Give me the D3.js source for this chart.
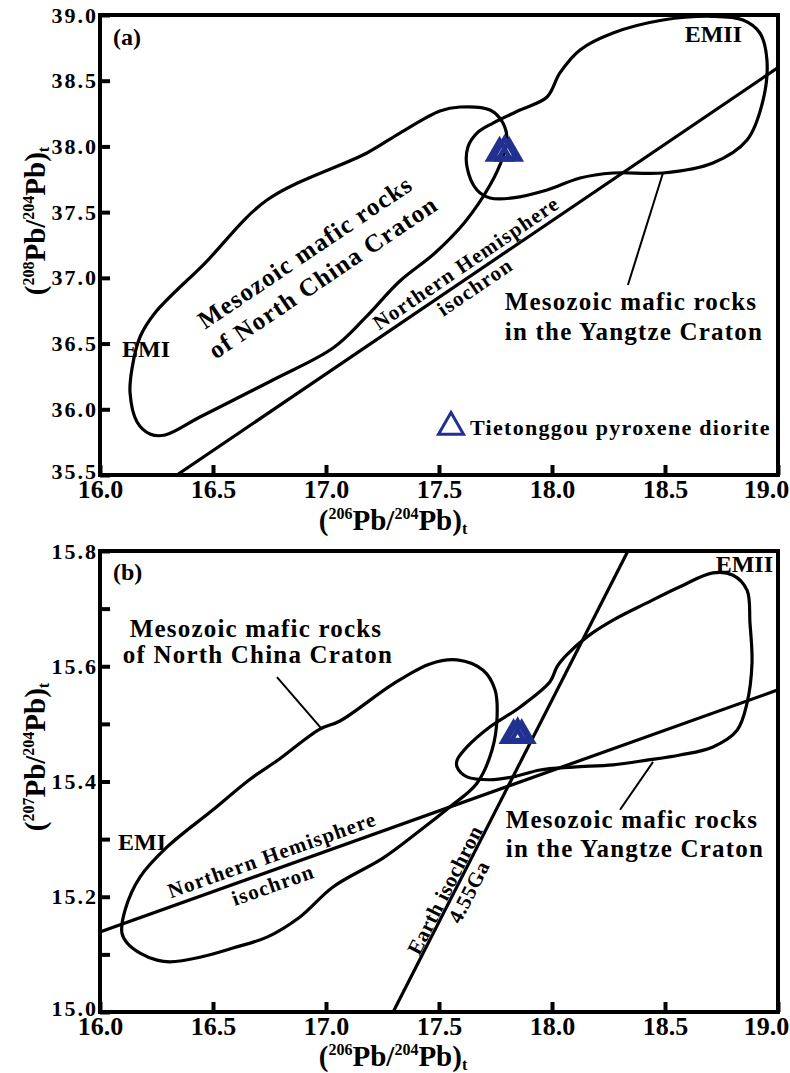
<!DOCTYPE html>
<html>
<head>
<meta charset="utf-8">
<script src="https://cdn.jsdelivr.net/npm/d3@7"></script>
<style>
  body { margin: 0; background: #fff; }
  text { font-family: "Liberation Serif", "Times New Roman", serif; font-weight: bold; fill: #000; }
</style>
</head>
<body>
<svg id="chart" width="790" height="1073"></svg>
<script>
// ---------- data (206Pb/204Pb, 208Pb/204Pb or 207Pb/204Pb) ----------
const xTicks = [16.0, 16.5, 17.0, 17.5, 18.0, 18.5, 19.0];
const yTicksA = [35.5, 36.0, 36.5, 37.0, 37.5, 38.0, 38.5, 39.0];
const yTicksB = [15.0, 15.1, 15.2, 15.3, 15.4, 15.5, 15.6, 15.7, 15.8];

// (a) field outlines
const nccA = [
  [17.593, 38.300], [17.726, 38.277], [17.783, 38.178], [17.801, 38.049], [17.783, 37.920],
  [17.726, 37.706], [17.615, 37.425], [17.482, 37.189], [17.327, 36.976], [17.173, 36.695],
  [17.031, 36.466], [16.765, 36.223], [16.442, 35.941], [16.288, 35.804], [16.221, 35.812],
  [16.164, 35.903], [16.133, 36.124], [16.142, 36.314], [16.177, 36.550], [16.243, 36.733],
  [16.465, 37.113], [16.739, 37.592], [17.181, 37.950], [17.327, 38.102], [17.504, 38.270]
];
const yangtzeA = [
  [17.628, 37.996], [17.624, 37.843], [17.668, 37.668], [17.726, 37.608], [17.827, 37.608],
  [17.978, 37.668], [18.124, 37.760], [18.270, 37.798], [18.491, 37.798], [18.712, 37.874],
  [18.863, 38.049], [18.934, 38.353], [18.951, 38.658], [18.920, 38.863], [18.845, 38.962],
  [18.712, 38.990], [18.491, 38.962], [18.270, 38.863], [18.124, 38.734], [18.035, 38.559],
  [17.978, 38.376], [17.858, 38.277], [17.739, 38.178], [17.668, 38.102]
];
const nhrlA = [[16.34, 35.5], [19.0, 38.60]];
const yangtzeLeaderA = [[18.491, 37.798], [18.336, 36.946]];
const samplesA = [[17.768, 37.950], [17.790, 37.962], [17.810, 37.950]];

// (b) field outlines
const nccB = [
  [16.097, 15.137], [16.111, 15.177], [16.177, 15.234], [16.296, 15.286], [16.500, 15.351],
  [16.664, 15.404], [16.783, 15.436], [16.973, 15.491], [17.062, 15.505], [17.296, 15.569],
  [17.460, 15.604], [17.580, 15.611], [17.695, 15.593], [17.748, 15.559], [17.757, 15.512],
  [17.735, 15.455], [17.668, 15.397], [17.549, 15.356], [17.403, 15.311], [17.252, 15.267],
  [17.031, 15.217], [16.885, 15.165], [16.739, 15.130], [16.588, 15.111], [16.442, 15.095],
  [16.310, 15.087], [16.252, 15.090], [16.177, 15.102], [16.119, 15.120]
];
const yangtzeB = [
  [17.580, 15.437], [17.624, 15.460], [17.726, 15.495], [17.858, 15.529], [17.991, 15.573],
  [18.022, 15.599], [18.066, 15.620], [18.155, 15.651], [18.270, 15.680], [18.420, 15.710],
  [18.566, 15.738], [18.712, 15.762], [18.801, 15.758], [18.863, 15.732], [18.876, 15.675],
  [18.885, 15.606], [18.863, 15.536], [18.819, 15.489], [18.712, 15.460], [18.566, 15.446],
  [18.420, 15.437], [18.270, 15.429], [18.093, 15.425], [17.947, 15.420], [17.827, 15.408],
  [17.726, 15.403], [17.624, 15.408], [17.580, 15.425]
];
const nhrlB = [[16.0, 15.139], [19.0, 15.559]];
const geochronB = [[17.297, 15.0], [18.336, 15.8]];
const nccLeaderB = [[16.783, 15.581], [16.982, 15.491]];
const yangtzeLeaderB = [[18.447, 15.434], [18.301, 15.351]];
const samplesB = [[17.830, 15.480], [17.848, 15.483], [17.866, 15.480]];

const legendLabel = "Tietonggou pyroxene diorite";
const sampleColor = "#22318f";

// ---------- drawing ----------
const svg = d3.select("#chart");

function txt(g, x, y, s, o = {}) {
  const t = g.append("text")
    .attr("x", x).attr("y", y)
    .attr("text-anchor", o.anchor || "start")
    .style("font-size", (o.size || 24) + "px")
    .style("letter-spacing", (o.ls || 0) + "px")
    .text(s);
  if (o.mid) t.attr("dominant-baseline", "central");
  if (o.rot != null) t.attr("transform", `rotate(${o.rot},${x},${y})`);
  return t;
}

// (²⁰⁶Pb/²⁰⁴Pb)t style title
function isoTitle(g, x, y, mass, rot) {
  const t = g.append("text").attr("x", x).attr("y", y)
    .attr("text-anchor", "middle").style("font-size", "29px");
  if (rot != null) t.attr("transform", `rotate(${rot},${x},${y})`);
  t.append("tspan").text("(");
  t.append("tspan").style("font-size", "16px").attr("dy", -11).text(mass);
  t.append("tspan").attr("dy", 11).text("Pb/");
  t.append("tspan").style("font-size", "16px").attr("dy", -11).text("204");
  t.append("tspan").attr("dy", 11).text("Pb)");
  t.append("tspan").style("font-size", "16px").attr("dy", 4).text("t");
}

function panel(id, top, bottom, yDomain, yTicks, yFmt) {
  const g = svg.append("g");
  const x = d3.scaleLinear().domain([16, 19]).range([100, 778]);
  const y = d3.scaleLinear().domain(yDomain).range([bottom, top]);

  g.append("clipPath").attr("id", id)
    .append("rect").attr("x", 100).attr("y", top).attr("width", 678).attr("height", bottom - top);
  const plot = g.append("g").attr("clip-path", `url(#${id})`);

  // axes with inward ticks
  g.append("g").attr("transform", `translate(0,${bottom})`)
    .call(d3.axisBottom(x).tickValues(xTicks).tickFormat(d3.format(".1f"))
      .tickSizeInner(-10).tickSizeOuter(0).tickPadding(5))
    .call(a => a.select(".domain").remove())
    .call(a => a.selectAll(".tick line").attr("stroke-width", 4))
    .call(a => a.selectAll("text").style("font-size", "26px")
      .attr("dx", d => (d === 19 ? -12 : 0)));

  g.append("g").attr("transform", "translate(100,0)")
    .call(d3.axisLeft(y).tickValues(yTicks).tickFormat(yFmt)
      .tickSizeInner(-10).tickSizeOuter(0).tickPadding(2))
    .call(a => a.select(".domain").remove())
    .call(a => a.selectAll(".tick line").attr("stroke-width", 4))
    .call(a => a.selectAll("text").style("font-size", "22px").style("letter-spacing", "2px")
      .attr("y", d => (d === yDomain[0] ? -4 : 0)));

  g.append("rect").attr("x", 100).attr("y", top).attr("width", 678).attr("height", bottom - top)
    .attr("fill", "none").attr("stroke", "#000").attr("stroke-width", 4);

  const line = d3.line().x(d => x(d[0])).y(d => y(d[1]));
  const field = d3.line().curve(d3.curveCatmullRomClosed.alpha(0.5)).x(d => x(d[0])).y(d => y(d[1]));
  return { g, plot, x, y, line, field };
}

function samples(p, data) {
  p.plot.selectAll(null).data(data).enter().append("path")
    .attr("d", d3.symbol(d3.symbolTriangle).size(215))
    .attr("transform", d => `translate(${p.x(d[0])},${p.y(d[1])})`)
    .attr("fill", "none").attr("stroke", sampleColor).attr("stroke-width", 4.5)
    .attr("stroke-linejoin", "miter");
}

// ----- panel (a) -----
const A = panel("clipA", 15, 475, [35.5, 39.0], yTicksA, d3.format(".1f"));
A.plot.append("path").attr("d", A.field(nccA)).attr("fill", "none").attr("stroke", "#000").attr("stroke-width", 3.2);
A.plot.append("path").attr("d", A.field(yangtzeA)).attr("fill", "none").attr("stroke", "#000").attr("stroke-width", 3.2);
A.plot.append("path").attr("d", A.line(nhrlA)).attr("stroke", "#000").attr("stroke-width", 3.2);
A.plot.append("path").attr("d", A.line(yangtzeLeaderA)).attr("stroke", "#000").attr("stroke-width", 2);
samples(A, samplesA);

txt(A.g, 113, 45, "(a)");
txt(A.g, 742, 42, "EMII", { anchor: "end" });
txt(A.g, 122, 357, "EMI");
txt(A.g, 305, 252, "Mesozoic mafic rocks", { anchor: "middle", mid: true, rot: -34, size: 25, ls: 1.2 });
txt(A.g, 323, 277, "of North China Craton", { anchor: "middle", mid: true, rot: -34, size: 25, ls: 1.2 });
txt(A.g, 466, 263, "Northern Hemisphere", { anchor: "middle", mid: true, rot: -34.2, size: 21, ls: 1.2 });
txt(A.g, 475, 287, "isochron", { anchor: "middle", mid: true, rot: -34.2, size: 21, ls: 1.2 });
txt(A.g, 631, 310, "Mesozoic mafic rocks", { anchor: "middle", size: 25, ls: 1.2 });
txt(A.g, 634, 340, "in the Yangtze Craton", { anchor: "middle", size: 25, ls: 1.2 });

// legend
A.g.append("path").attr("d", d3.symbol(d3.symbolTriangle).size(270))
  .attr("transform", "translate(451,427)")
  .attr("fill", "none").attr("stroke", sampleColor).attr("stroke-width", 3);
txt(A.g, 470, 435, legendLabel, { size: 22, ls: 1.3 });

isoTitle(A.g, 393, 530, "206");
isoTitle(A.g, 45, 221, "208", -90);

// ----- panel (b) -----
const B = panel("clipB", 551, 1012, [15.0, 15.8], yTicksB,
  d => (Math.round(d * 10) % 2 === 0 ? d.toFixed(1) : ""));
B.plot.append("path").attr("d", B.field(nccB)).attr("fill", "none").attr("stroke", "#000").attr("stroke-width", 3.2);
B.plot.append("path").attr("d", B.field(yangtzeB)).attr("fill", "none").attr("stroke", "#000").attr("stroke-width", 3.2);
B.plot.append("path").attr("d", B.line(nhrlB)).attr("stroke", "#000").attr("stroke-width", 3.2);
B.plot.append("path").attr("d", B.line(geochronB)).attr("stroke", "#000").attr("stroke-width", 3.2);
B.plot.append("path").attr("d", B.line(nccLeaderB)).attr("stroke", "#000").attr("stroke-width", 2);
B.plot.append("path").attr("d", B.line(yangtzeLeaderB)).attr("stroke", "#000").attr("stroke-width", 2);
samples(B, samplesB);

txt(B.g, 113, 580, "(b)");
txt(B.g, 773, 572, "EMII", { anchor: "end" });
txt(B.g, 118, 850, "EMI");
txt(B.g, 256, 637, "Mesozoic mafic rocks", { anchor: "middle", size: 25, ls: 1.2 });
txt(B.g, 258, 663, "of North China Craton", { anchor: "middle", size: 25, ls: 1.2 });
txt(B.g, 632, 828, "Mesozoic mafic rocks", { anchor: "middle", size: 25, ls: 1.2 });
txt(B.g, 635, 857, "in the Yangtze Craton", { anchor: "middle", size: 25, ls: 1.2 });
txt(B.g, 272, 855, "Northern Hemisphere", { anchor: "middle", mid: true, rot: -19.6, size: 21, ls: 1.2 });
txt(B.g, 273, 885, "isochron", { anchor: "middle", mid: true, rot: -19.6, size: 21, ls: 1.2 });
txt(B.g, 445, 890, "Earth isochron", { anchor: "middle", mid: true, rot: -63, size: 21, ls: 0.5 });
txt(B.g, 469, 892, "4.55Ga", { anchor: "middle", mid: true, rot: -63, size: 21, ls: 0.5 });

isoTitle(B.g, 393, 1066, "206");
isoTitle(B.g, 45, 757, "207", -90);
</script>
</body>
</html>
